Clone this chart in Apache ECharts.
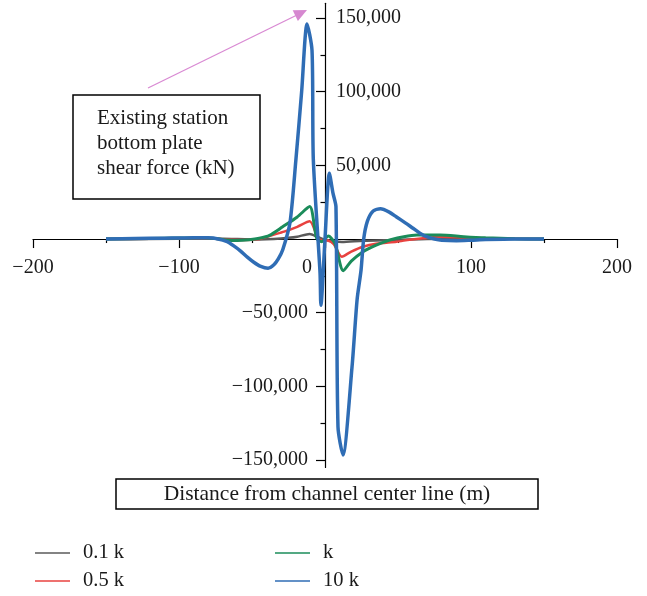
<!DOCTYPE html>
<html>
<head>
<meta charset="utf-8">
<script src="https://cdn.jsdelivr.net/npm/echarts@6/dist/echarts.min.js"></script>
<style>
  html, body { margin: 0; padding: 0; background: #ffffff; }
  #chart { width: 647px; height: 596px; }
</style>
</head>
<body>
<div id="chart"></div>
<script>
// Bottom-plate shear force (kN) against distance from the channel centre line (m)
const seriesNames = ['0.1 k', '0.5 k', 'k', '10 k'];

const x01k = [-150, -100, -80, -60, -45, -35, -25, -19, -10.5, -5, 0, 6, 11.5, 26, 49, 70, 100, 150];
const y01k = [0, 200, 300, 0, -300, 0, 800, 1600, 3400, 1400, -500, -1500, -2000, -1100, -600, 0, 200, 0];

const x05k = [-150, -120, -100, -85, -75, -65, -55, -45, -36, -28, -19, -10.5, -4, 2, 6, 11.5, 18, 26, 35, 49, 58, 67, 79, 95, 110, 130, 150];
const y05k = [0, 200, 500, 600, 200, -500, -700, 0, 2700, 5000, 8300, 12000, -300, -1000, -3500, -12000, -8500, -5200, -3200, -1800, -500, 500, 1500, 1000, 500, 200, 0];

const x1k = [-150, -120, -100, -85, -75, -68, -60, -52, -45, -38, -29, -19, -10.5, -5.7, -2.3, 2.3, 6.8, 12.5, 18, 26, 32, 38, 45, 54, 63, 79, 95, 110, 130, 150];
const y1k = [0, 300, 700, 900, 300, -600, -1000, -500, 500, 2500, 8300, 15000, 22000, 500, -1800, 2000, -3000, -21500, -15000, -8600, -5500, -3000, -500, 1600, 2700, 2700, 1600, 800, 200, 0];

const x10k = [-150, -130, -110, -100, -90, -80, -74, -67, -62, -58, -53, -49, -44, -39, -35, -32, -29, -24, -20, -16, -12.3, -8.9, -8.0, -3.4, -2.8, 0, 3, 5.5, 7.5, 8.9, 12.3, 18.5, 22, 24.7, 26.5, 29, 33, 38, 44, 49, 55, 60, 65, 70, 75, 80, 90, 100, 110, 130, 150];
const y10k = [0, 300, 600, 700, 900, 800, 200, -1800, -5000, -8000, -12500, -15600, -18600, -19800, -17500, -13500, -7500, 11000, 53000, 100000, 146000, 128000, 54000, -23000, -45000, 0, 44600, 31000, 22000, -127500, -146500, -87000, -41000, -21000, 0, 12000, 19000, 20500, 18300, 15000, 11000, 7500, 4000, 1400, 0, -800, -1100, -800, -400, 0, 0];

// axis ranges
const X_MIN = -200, X_MAX = 200, X_STEP = 100;
const Y_LINE_MIN = -155000, Y_LINE_MAX = 160000;     // extent of the drawn y axis line
const Y_TICK_MIN = -150000, Y_TICK_MAX = 150000, Y_STEP = 50000;

// plot box in pixels
const plot = { left: 33, right: 617, top: 3.3, bottom: 467.4 };
const pxPerY = (plot.bottom - plot.top) / (Y_LINE_MAX - Y_LINE_MIN);
const zeroX = plot.left + (0 - X_MIN) / (X_MAX - X_MIN) * (plot.right - plot.left);
const zeroY = plot.top + (Y_LINE_MAX - 0) * pxPerY;
const tickTop = plot.top + (Y_LINE_MAX - Y_TICK_MAX) * pxPerY;
const tickBottom = plot.bottom - (Y_TICK_MIN - Y_LINE_MIN) * pxPerY;

const FONT = 'Liberation Serif';
const FS = 20;
const INK = '#1a1a1a';
const colors = ['#5a5a5a', '#e8423f', '#1b8c5a', '#2f6db5'];
const widths = [2.5, 2.5, 3, 3.5];

function fmt(v) {
  const s = Math.abs(v).toLocaleString('en-US');
  return v < 0 ? '\u2212' + s : s;
}
function zip(xs, ys) { return xs.map((x, i) => [x, ys[i]]); }

const dataSets = [zip(x01k, y01k), zip(x05k, y05k), zip(x1k, y1k), zip(x10k, y10k)];

const chart = echarts.init(document.getElementById('chart'), null, { renderer: 'canvas' });

const textBase = { fontFamily: FONT, fontSize: FS, color: INK };
const tickStyle = { color: '#000', width: 1.2 };
const gridBase = { containLabel: false, outerBoundsMode: 'none' };

// legend drawn as two columns: [0.1 k, 0.5 k] and [k, 10 k]
const legendCols = [35, 275], legendRows = [553, 581];
const legendItems = [];
seriesNames.forEach((name, i) => {
  const x = legendCols[Math.floor(i / 2)], y = legendRows[i % 2];
  legendItems.push({
    type: 'line', shape: { x1: x, y1: y, x2: x + 35, y2: y },
    style: { stroke: colors[i], lineWidth: 1.5 }, z: 10
  });
  legendItems.push({
    type: 'text', x: x + 48, y: y, z: 10,
    style: { text: name, font: '20.5px "' + FONT + '"', fill: INK, textVerticalAlign: 'middle' }
  });
});

const option = {
  animation: false,
  backgroundColor: '#ffffff',
  grid: [
    // data area
    { ...gridBase, left: plot.left, top: plot.top, width: plot.right - plot.left, height: plot.bottom - plot.top },
    // y ticks and labels (-150,000 .. 150,000)
    { ...gridBase, left: zeroX, top: tickTop, width: plot.right - zeroX, height: tickBottom - tickTop },
    // x axis, whose bottom edge sits on y = 0
    { ...gridBase, left: plot.left, top: plot.top, width: plot.right - plot.left, height: zeroY - plot.top }
  ],
  xAxis: [
    { type: 'value', gridIndex: 0, min: X_MIN, max: X_MAX, show: false },
    { type: 'value', gridIndex: 1, min: 0, max: 1, show: false },
    {
      type: 'value', gridIndex: 2, position: 'bottom', min: X_MIN, max: X_MAX, interval: X_STEP,
      axisLine: { show: true, onZero: false, lineStyle: tickStyle },
      axisTick: { show: true, length: 9, inside: false, lineStyle: tickStyle },
      minorTick: { show: true, splitNumber: 2, length: 4, lineStyle: tickStyle },
      splitLine: { show: false },
      axisLabel: {
        margin: 19, ...textBase,
        formatter: v => v === 0 ? '{z|0}' : fmt(v),
        rich: { z: { fontFamily: FONT, fontSize: FS, color: INK, padding: [0, 36, 8, 0] } }
      }
    }
  ],
  yAxis: [
    {
      type: 'value', gridIndex: 0, min: Y_LINE_MIN, max: Y_LINE_MAX,
      axisLine: { show: true, onZero: true, lineStyle: tickStyle },
      axisTick: { show: false }, axisLabel: { show: false }, splitLine: { show: false }
    },
    {
      // ticks plus the positive labels on the right of the axis
      type: 'value', gridIndex: 1, position: 'left', offset: 0, min: Y_TICK_MIN, max: Y_TICK_MAX, interval: Y_STEP,
      axisLine: { show: false },
      axisTick: { show: true, length: 9, inside: false, lineStyle: tickStyle },
      minorTick: { show: true, splitNumber: 2, length: 4.5, lineStyle: tickStyle },
      splitLine: { show: false },
      axisLabel: { inside: true, margin: 11, padding: [4, 0, 0, 0], ...textBase, formatter: v => v > 0 ? fmt(v) : '' }
    },
    {
      // negative labels on the left of the axis
      type: 'value', gridIndex: 1, position: 'left', offset: 0, min: Y_TICK_MIN, max: Y_TICK_MAX, interval: Y_STEP,
      axisLine: { show: false }, axisTick: { show: false }, splitLine: { show: false },
      axisLabel: { inside: false, margin: 17, padding: [2, 0, 0, 0], ...textBase, formatter: v => v < 0 ? fmt(v) : '' }
    },
    { type: 'value', gridIndex: 2, min: 0, max: 1, show: false }
  ],
  series: seriesNames.map((name, i) => ({
    name, type: 'line', xAxisIndex: 0, yAxisIndex: 0,
    data: dataSets[i], symbol: 'none', showSymbol: false, smooth: 0.25,
    color: colors[i],
    lineStyle: { color: colors[i], width: widths[i] },
    z: 2 + i
  })),
  graphic: [
    {
      type: 'rect', shape: { x: 73, y: 95, width: 187, height: 104 },
      style: { fill: '#ffffff', stroke: '#000', lineWidth: 1.5 }, z: 10
    },
    {
      type: 'text', x: 97, y: 106, z: 11,
      style: { text: 'Existing station\nbottom plate\nshear force (kN)', font: '21px "' + FONT + '"', fill: INK, lineHeight: 25, textVerticalAlign: 'top' }
    },
    {
      type: 'line', shape: { x1: 148, y1: 88, x2: 296, y2: 15.5 },
      style: { stroke: '#d98ad3', lineWidth: 1.3 }, z: 10
    },
    {
      type: 'polygon', shape: { points: [[307, 10], [292.7, 10.2], [297.9, 21]] },
      style: { fill: '#d688d0' }, z: 10
    },
    {
      type: 'rect', shape: { x: 116, y: 479, width: 422, height: 30 },
      style: { fill: '#ffffff', stroke: '#000', lineWidth: 1.5 }, z: 10
    },
    {
      type: 'text', x: 327, y: 494, z: 11,
      style: { text: 'Distance from channel center line (m)', font: '21.5px "' + FONT + '"', fill: INK, textAlign: 'center', textVerticalAlign: 'middle' }
    },
    ...legendItems
  ]
};

chart.setOption(option);
</script>
</body>
</html>
